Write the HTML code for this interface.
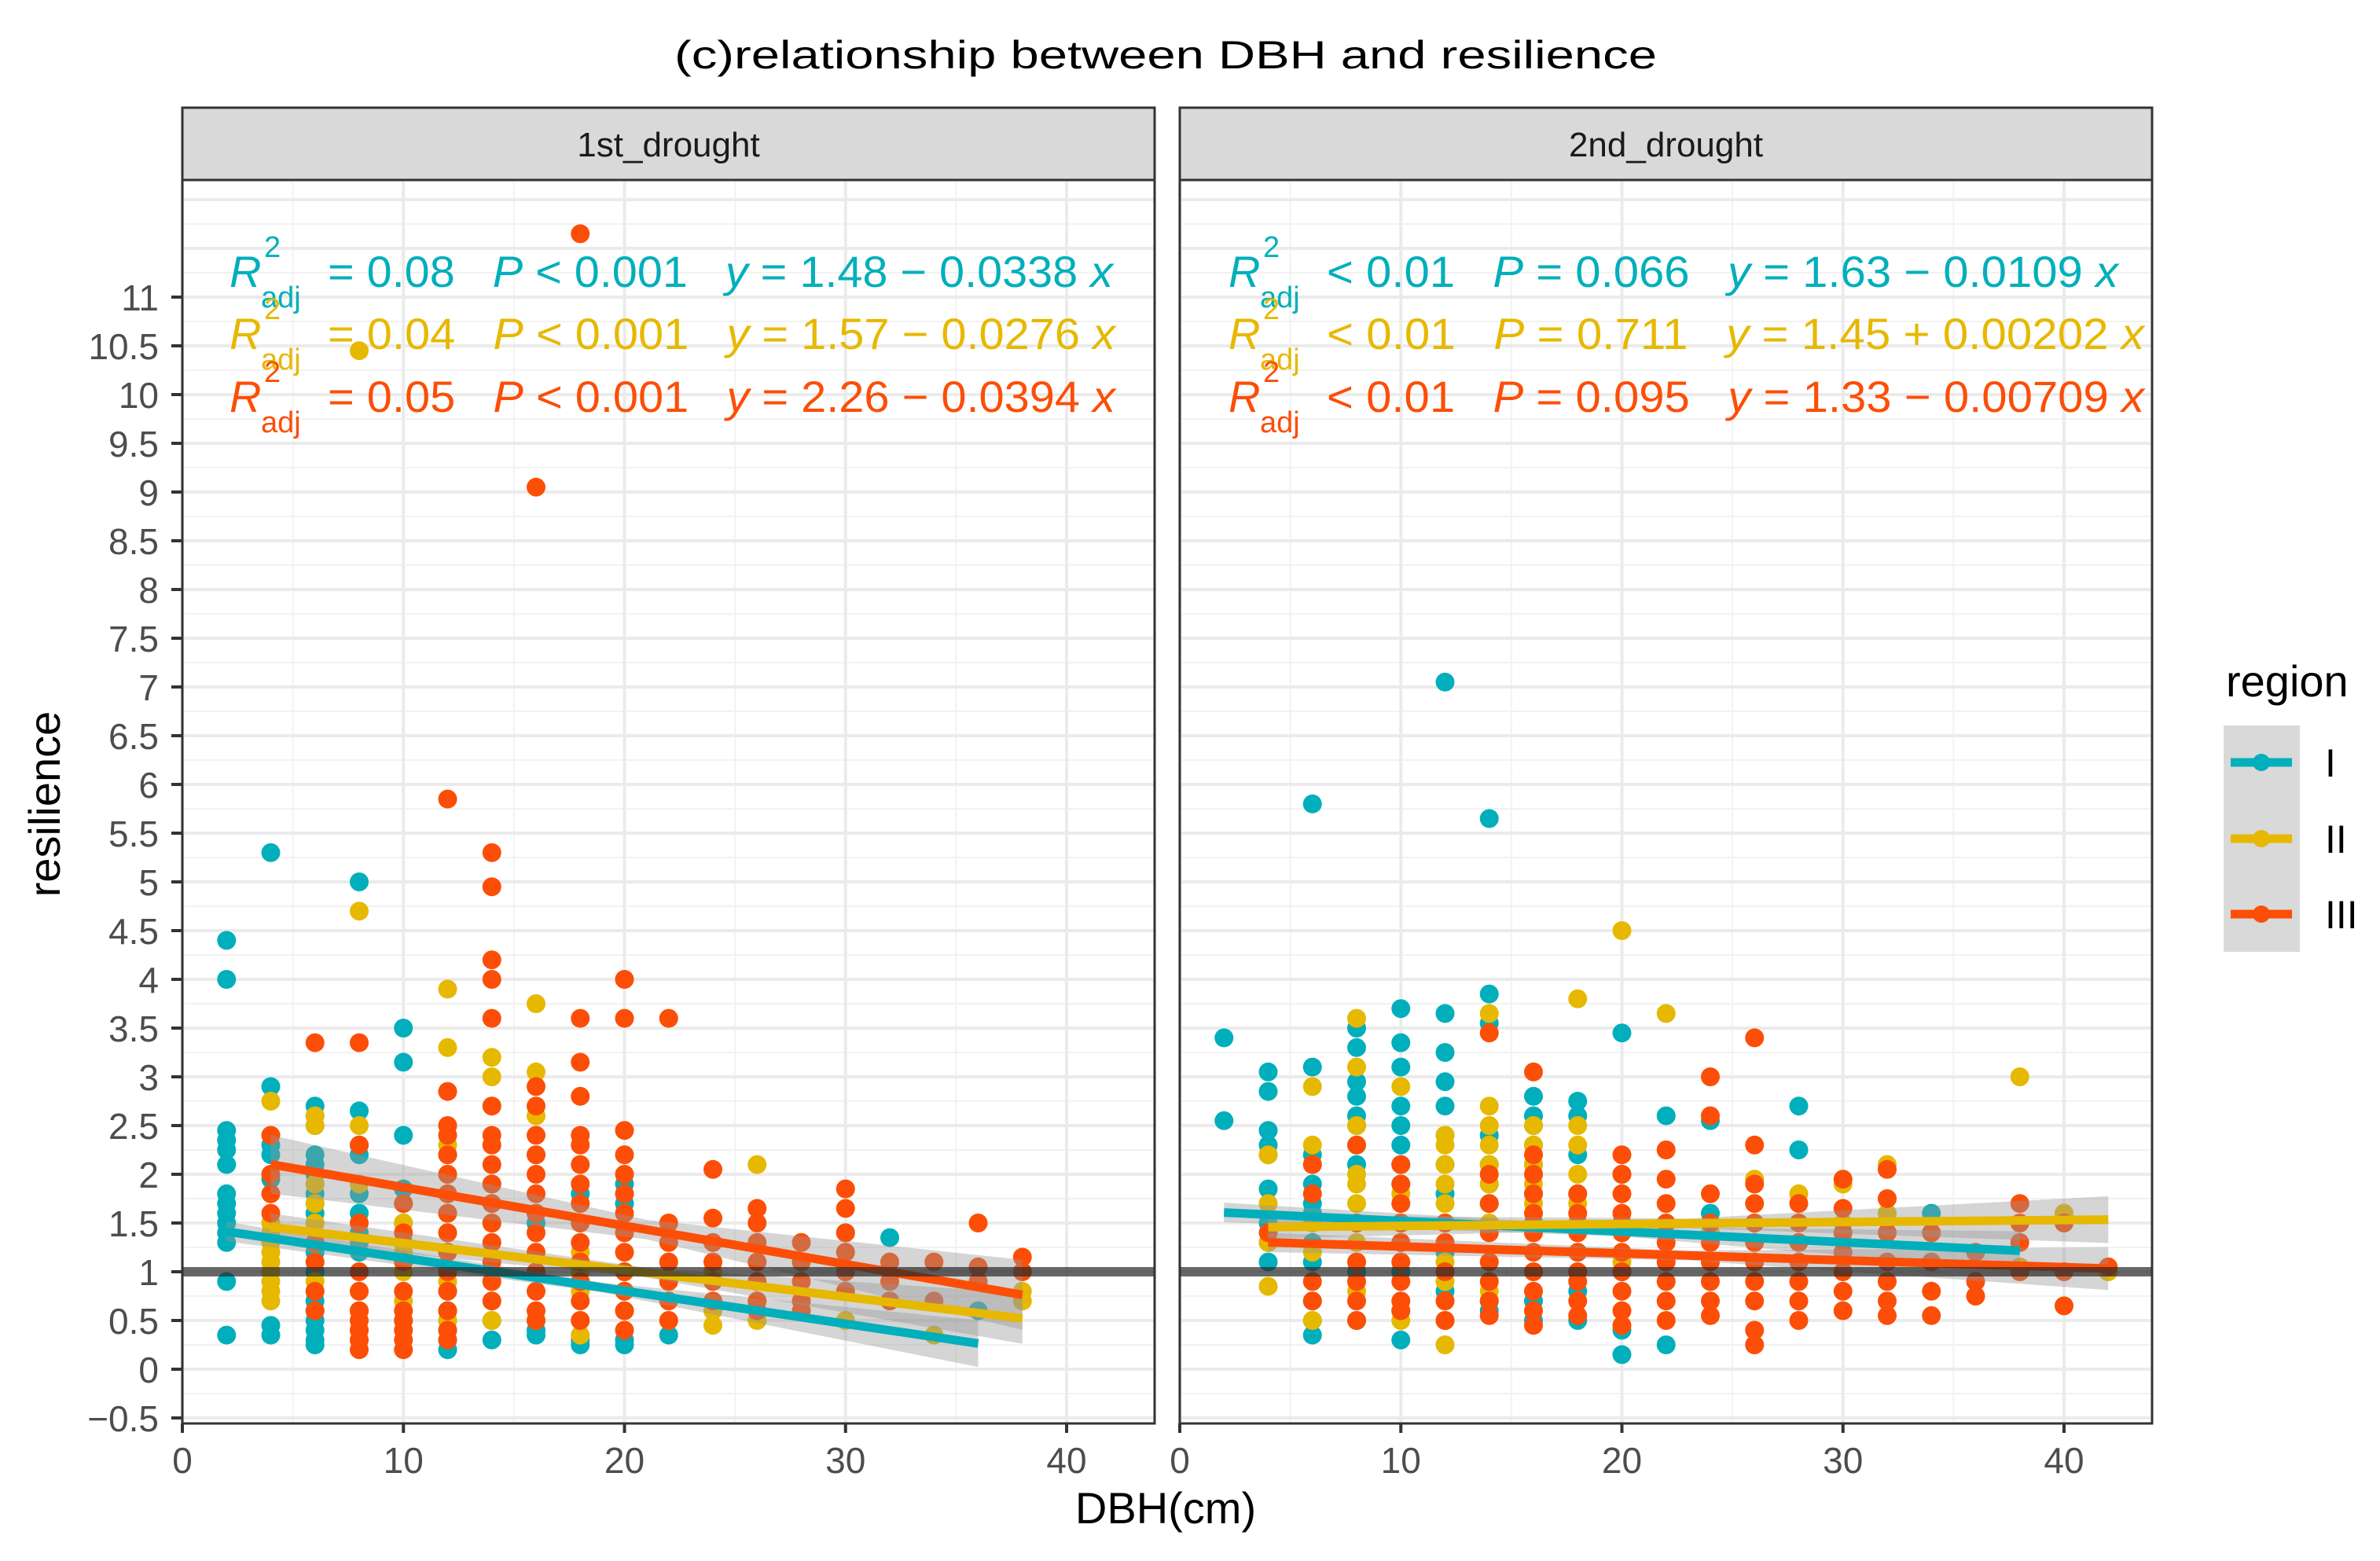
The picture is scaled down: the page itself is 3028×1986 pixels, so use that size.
<!DOCTYPE html>
<html><head><meta charset="utf-8"><style>
html,body{margin:0;padding:0;background:#fff;}
svg{display:block;font-family:"Liberation Sans",Arial,sans-serif;}
text{white-space:pre;}
</style></head><body>
<svg id="chart" width="3028" height="1986" viewBox="0 0 3028 1986" xmlns="http://www.w3.org/2000/svg">
<rect width="3028" height="1986" fill="#fff"/>
<text x="1483" y="87" text-anchor="middle" font-size="50" fill="#000" textLength="1250" lengthAdjust="spacingAndGlyphs">(c)relationship between DBH and resilience</text>
<g id="panels"></g>
<text x="1483" y="1938" text-anchor="middle" font-size="56" fill="#000">DBH(cm)</text>
<text transform="translate(76,1023) rotate(-90)" text-anchor="middle" font-size="56" fill="#000">resilience</text>
<g>
<text x="2832" y="886" font-size="56" fill="#000">region</text>
<rect x="2829" y="923" width="97" height="288" fill="#d9d9d9"/>
<g><line x1="2838" y1="970" x2="2916" y2="970" stroke="#00AFBB" stroke-width="11"/><circle cx="2877" cy="970" r="11" fill="#00AFBB"/><text x="2958" y="988" font-size="50" fill="#000">I</text></g>
<g><line x1="2838" y1="1067" x2="2916" y2="1067" stroke="#E7B800" stroke-width="11"/><circle cx="2877" cy="1067" r="11" fill="#E7B800"/><text x="2958" y="1085" font-size="50" fill="#000">II</text></g>
<g><line x1="2838" y1="1163" x2="2916" y2="1163" stroke="#FC4E07" stroke-width="11"/><circle cx="2877" cy="1163" r="11" fill="#FC4E07"/><text x="2958" y="1181" font-size="50" fill="#000">III</text></g>
</g>
</svg>
<script>
// ---- data ----
const regions = ["I","II","III"];
const colors = ["#00AFBB","#E7B800","#FC4E07"];
const panelNames = ["1st_drought","2nd_drought"];
const yTicks = [-0.5,0,0.5,1,1.5,2,2.5,3,3.5,4,4.5,5,5.5,6,6.5,7,7.5,8,8.5,9,9.5,10,10.5,11];
const yTickLabels = ["\u22120.5","0","0.5","1","1.5","2","2.5","3","3.5","4","4.5","5","5.5","6","6.5","7","7.5","8","8.5","9","9.5","10","10.5","11"];
const xTicks = [0,10,20,30,40];
const p1I = [[2,[4.4,4.0,2.45,2.35,2.25,2.1,1.8,1.7,1.6,1.5,1.4,1.3,0.9,0.35]],[4,[5.3,2.9,2.3,2.2,1.95,0.45,0.35]],[6,[2.7,2.6,2.5,2.2,2.1,2.0,1.9,1.8,1.7,1.6,1.5,1.2,1.0,0.8,0.7,0.6,0.5,0.4,0.3,0.25]],[8,[5.0,2.65,2.3,2.2,1.8,1.6,1.4,1.3,1.2]],[10,[3.5,3.15,2.4,1.85,1.7,1.5,1.3]],[12,[2.2,1.8,1.6,1.2,1.0,0.8,0.6,0.5,0.4,0.3,0.2]],[14,[1.9,1.7,1.5,0.5,0.3]],[16,[2.2,1.6,1.5,0.4,0.35]],[18,[1.8,0.3,0.25]],[20,[1.9,1.7,0.3,0.25]],[22,[0.35]],[30,[1.4]],[32,[1.35]],[36,[0.6]]];
const p1II = [[4,[2.75,1.5,1.4,1.3,1.2,1.1,1.0,0.9,0.8,0.7]],[6,[2.6,2.5,1.9,1.7,1.5,1.3,1.1,0.9]],[8,[10.45,4.7,2.5,1.9,0.8,0.6,0.4,0.3]],[10,[1.5,1.2,1.0,0.7,0.5]],[12,[3.9,3.3,2.3,2.0,1.8,1.6,1.4,1.2,0.9,0.6,0.5]],[14,[3.2,3.0,2.7,1.5,1.3,0.9,0.7,0.5]],[16,[3.75,3.05,2.6,0.5]],[18,[1.2,1.0,0.8,0.5,0.35]],[20,[1.0,0.8,0.6]],[22,[0.5]],[24,[1.0,0.6,0.45]],[26,[2.1,0.7,0.5]],[30,[0.5]],[34,[0.35]],[38,[0.8,0.7]]];
const p1III = [[4,[2.4,2.0,1.8,1.6]],[6,[3.35,1.3,1.1,0.8,0.6]],[8,[3.35,2.3,1.5,1.0,0.8,0.6,0.5,0.4,0.3,0.2]],[10,[1.7,1.4,1.1,0.8,0.6,0.5,0.4,0.3,0.2]],[12,[5.85,2.85,2.5,2.4,2.2,2.0,1.8,1.6,1.4,1.2,1.0,0.8,0.6,0.4,0.3]],[14,[5.3,4.95,4.2,4.0,3.6,2.7,2.4,2.3,2.1,1.9,1.7,1.5,1.3,1.1,0.9,0.7]],[16,[9.05,2.9,2.7,2.4,2.2,2.0,1.8,1.6,1.4,1.2,1.0,0.8,0.6,0.5]],[18,[11.65,3.6,3.15,2.8,2.4,2.3,2.1,1.9,1.7,1.5,1.3,1.1,0.9,0.7,0.5]],[20,[4.0,3.6,2.45,2.2,2.0,1.8,1.6,1.4,1.2,1.0,0.8,0.6,0.4]],[22,[3.6,1.5,1.3,1.1,0.9,0.7,0.5]],[24,[2.05,1.55,1.3,1.1,0.9,0.7]],[26,[1.65,1.5,1.3,1.1,0.9,0.7,0.6]],[28,[1.3,1.1,0.9,0.7,0.6]],[30,[1.85,1.65,1.4,1.2,1.0,0.8]],[32,[1.1,0.9,0.7]],[34,[1.1,0.7]],[36,[1.5,1.05,0.9]],[38,[1.15,1.0]]];
const p2I = [[2,[3.4,2.55]],[4,[3.05,2.85,2.45,2.3,2.2,1.85,1.5,1.3,1.1]],[6,[5.8,3.1,2.2,1.9,1.7,1.6,1.3,1.1,0.7,0.5,0.35]],[8,[3.5,3.3,2.95,2.8,2.6,2.5,2.3,2.1,1.0,0.5]],[10,[3.7,3.35,3.1,2.7,2.5,2.3,2.1,1.9,1.5,1.0,0.6,0.3]],[12,[7.05,3.65,3.25,2.95,2.7,2.4,2.1,1.8,1.5,1.2,0.8,0.5]],[14,[5.65,3.85,3.55,2.4,2.1,1.9,1.7,1.5,0.7,0.6]],[16,[2.8,2.6,2.5,2.3,2.1,1.8,1.5,0.7,0.5]],[18,[2.75,2.6,2.2,1.8,1.5,1.2,0.8,0.5]],[20,[3.45,2.0,1.5,1.0,0.4,0.15]],[22,[2.6,0.25]],[24,[2.55,1.6]],[28,[2.7,2.25]],[34,[1.6]]];
const p2II = [[4,[2.2,1.7,1.3,0.85]],[6,[2.9,2.3,2.1,1.5,1.2,0.5]],[8,[3.6,3.1,2.5,2.0,1.9,1.7,1.5,1.3,1.1,0.8]],[10,[2.9,1.8,1.3,0.7,0.5]],[12,[2.4,2.3,2.1,1.9,1.7,1.5,1.3,1.1,0.9,0.7,0.5,0.25]],[14,[3.65,2.7,2.5,2.3,2.1,1.9,1.7,1.5,0.8]],[16,[2.5,2.3,2.1,1.9,1.7,1.4]],[18,[3.8,2.5,2.3,2.0,1.7,1.5]],[20,[4.5,1.1]],[22,[3.65]],[24,[1.4]],[26,[1.95,1.5]],[28,[1.8]],[30,[1.9,1.5]],[32,[2.1,1.6]],[38,[3.0,1.05]],[40,[1.6]],[42,[1.0]]];
const p2III = [[4,[1.4]],[6,[2.1,1.8,0.9,0.7]],[8,[2.3,1.5,1.1,0.9,0.7,0.5]],[10,[2.1,1.9,1.7,1.5,1.3,1.1,0.9,0.7,0.6]],[12,[1.5,1.3,1.0,0.7,0.5]],[14,[3.45,2.0,1.7,1.4,1.1,0.9,0.7,0.55]],[16,[3.05,2.2,2.0,1.8,1.6,1.4,1.2,1.0,0.8,0.6,0.45]],[18,[1.8,1.6,1.4,1.2,1.0,0.9,0.7,0.55]],[20,[2.2,2.0,1.8,1.6,1.4,1.2,1.0,0.8,0.6,0.45]],[22,[2.25,1.95,1.7,1.5,1.3,1.1,0.9,0.7,0.5]],[24,[3.0,2.6,1.8,1.5,1.3,1.1,0.9,0.7,0.55]],[26,[3.4,2.3,1.9,1.7,1.5,1.3,1.1,0.9,0.7,0.4,0.25]],[28,[1.7,1.5,1.3,1.1,0.9,0.7,0.5]],[30,[1.95,1.65,1.4,1.2,1.0,0.8,0.6]],[32,[2.05,1.75,1.4,1.1,0.9,0.7,0.55]],[34,[1.4,1.1,0.8,0.55]],[36,[1.2,0.9,0.75]],[38,[1.7,1.5,1.3,1.0]],[40,[1.5,1.0,0.65]],[42,[1.05]]];
const fitIntercept = [[1.48,1.57,2.26],[1.63,1.45,1.33]];
const fitSlope = [[-0.0338,-0.0276,-0.0394],[-0.0109,0.00202,-0.00709]];
const fitXmin = [[2,4,4],[2,4,4]];
const fitXmax = [[36,38,38],[38,42,42]];
const ciHalf = [[[0.1,0.05,0.24],[0.14,0.05,0.26],[0.3,0.1,0.36]],[[0.1,0.05,0.2],[0.12,0.05,0.24],[0.1,0.05,0.22]]];
const statR2 = [["= 0.08","= 0.04","= 0.05"],["< 0.01","< 0.01","< 0.01"]];
const statP = [["< 0.001","< 0.001","< 0.001"],["= 0.066","= 0.711","= 0.095"]];
const statEq = [["= 1.48 \u2212 0.0338","= 1.57 \u2212 0.0276","= 2.26 \u2212 0.0394"],["= 1.63 \u2212 0.0109","= 1.45 + 0.00202","= 1.33 \u2212 0.00709"]];
const points = [[p1I,p1II,p1III],[p2I,p2II,p2III]];

const NS="http://www.w3.org/2000/svg";
const panelLeft=[232,1501], panelW=1237, plotTop=229, plotBot=1811, stripTop=137;
const pxPerX=28.125, y0=1742, pxPerY=124;
const annStart=[292,1563], annEnd=[[1416,1419,1419],[2695,2728,2728]], annY=[365,444,524];
function X(p,v){return panelLeft[p]+v*pxPerX;}
function Y(v){return y0-v*pxPerY;}
function mk(tag,attrs,parent){const e=document.createElementNS(NS,tag);for(const k in attrs)e.setAttribute(k,attrs[k]);parent.appendChild(e);return e;}
const root=document.getElementById('panels');

for(let p=0;p<2;p++){
  const g=mk('g',{},root);
  
  
  const L=panelLeft[p],R=L+panelW;
  mk('rect',{x:L,y:plotTop,width:panelW,height:plotBot-plotTop,fill:'#fff'},g);
  for(let v=-0.75;v<=12.2;v+=0.5){const y=Y(v);if(y>plotTop&&y<plotBot)mk('line',{x1:L,x2:R,y1:y,y2:y,stroke:'#f2f2f2','stroke-width':2},g);}
  for(let v=5;v<44;v+=10){mk('line',{x1:X(p,v),x2:X(p,v),y1:plotTop,y2:plotBot,stroke:'#f2f2f2','stroke-width':2},g);}
  yTicks.forEach(v=>{mk('line',{x1:L,x2:R,y1:Y(v),y2:Y(v),stroke:'#ebebeb','stroke-width':4},g);});
  for(let v=11.5;v<=12;v+=0.5)mk('line',{x1:L,x2:R,y1:Y(v),y2:Y(v),stroke:'#ebebeb','stroke-width':4},g);
  xTicks.forEach(v=>{mk('line',{x1:X(p,v),x2:X(p,v),y1:plotTop,y2:plotBot,stroke:'#ebebeb','stroke-width':4},g);});
  for(let r=0;r<3;r++){
    points[p][r].forEach(([xv,ys])=>{ys.forEach(yv=>{
      const c=mk('circle',{cx:X(p,xv),cy:Y(yv),r:12,fill:colors[r]},g);
      
      
    });});
  }
  for(let r=0;r<3;r++){
    const a=fitIntercept[p][r],b=fitSlope[p][r],x1=fitXmin[p][r],x2=fitXmax[p][r],xm=(x1+x2)/2;
    const xs=[x1,xm,x2],h=ciHalf[p][r];
    const up=xs.map((xv,i)=>X(p,xv)+','+Y(a+b*xv+h[i]));
    const lo=xs.map((xv,i)=>X(p,xv)+','+Y(a+b*xv-h[i])).reverse();
    const band=mk('polygon',{points:up.concat(lo).join(' '),fill:'rgba(150,150,150,0.4)'},g);
    
    
  }
  for(let r=0;r<3;r++){
    const a=fitIntercept[p][r],b=fitSlope[p][r],x1=fitXmin[p][r],x2=fitXmax[p][r];
    const ln=mk('line',{x1:X(p,x1),y1:Y(a+b*x1),x2:X(p,x2),y2:Y(a+b*x2),stroke:colors[r],'stroke-width':11},g);
    
    
  }
  const ref=mk('line',{x1:L,x2:R,y1:Y(1),y2:Y(1),stroke:'rgba(40,40,40,0.7)','stroke-width':12},g);
  
  
  for(let r=0;r<3;r++){
    const ag=mk('g',{fill:colors[r]},g);
    
    
    const xs=annStart[p],yb=annY[r];
    const t1=mk('text',{x:xs,y:yb,'font-size':56,'font-style':'italic'},ag);t1.textContent='R';
    const t2=mk('text',{x:xs+44,y:yb-38,'font-size':38},ag);t2.textContent='2';
    const t3=mk('text',{x:xs+40,y:yb+26,'font-size':38},ag);t3.textContent='adj';
    const t4=mk('text',{x:xs+125,y:yb,'font-size':56,textLength:annEnd[p][r]-xs-125,lengthAdjust:'spacingAndGlyphs'},ag);
    const parts=[[statR2[p][r]+'   ',0],['P',1],[' '+statP[p][r]+'   ',0],['y',1],[' '+statEq[p][r]+' ',0],['x',1]];
    parts.forEach(([s,it])=>{const ts=mk('tspan',it?{'font-style':'italic'}:{},t4);ts.textContent=s;});
  }
  mk('rect',{x:L,y:plotTop,width:panelW,height:plotBot-plotTop,fill:'none',stroke:'#333','stroke-width':3},g);
  const s=mk('rect',{x:L,y:stripTop,width:panelW,height:plotTop-stripTop,fill:'#d9d9d9',stroke:'#333','stroke-width':3},g);
  
  
  const st=mk('text',{x:L+panelW/2,y:199,'text-anchor':'middle','font-size':44,fill:'#1a1a1a'},g);
  st.textContent=panelNames[p];
  xTicks.forEach(v=>{
    mk('line',{x1:X(p,v),x2:X(p,v),y1:plotBot,y2:plotBot+12,stroke:'#333','stroke-width':4},g);
    const t=mk('text',{x:X(p,v),y:1874,'text-anchor':'middle','font-size':46,fill:'#4d4d4d'},g);
    
    
    t.textContent=String(v);
  });
}
const ya=mk('g',{},root);


yTicks.forEach((v,i)=>{
  mk('line',{x1:218,x2:232,y1:Y(v),y2:Y(v),stroke:'#333','stroke-width':4},ya);
  const t=mk('text',{x:202,y:Y(v)+17,'text-anchor':'end','font-size':46,fill:'#4d4d4d'},ya);
  
  
  t.textContent=yTickLabels[i];
});
</script>
</body></html>
